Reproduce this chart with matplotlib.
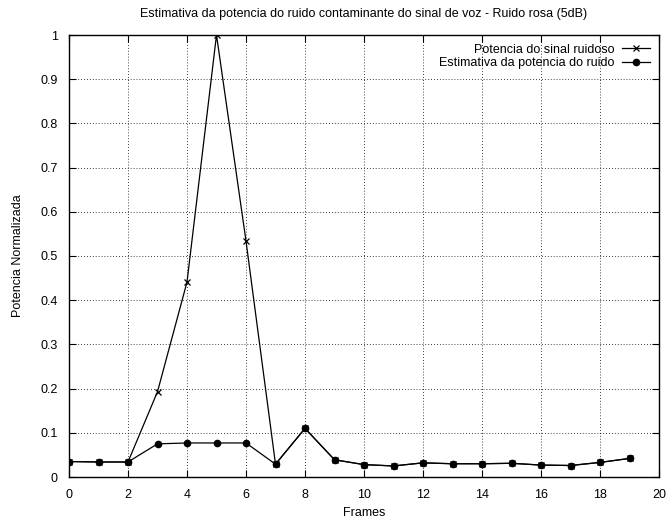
import matplotlib
matplotlib.use("Agg")
import matplotlib.pyplot as plt

frames = list(range(20))
sinal_ruidoso = [0.035, 0.034, 0.034, 0.193, 0.441, 1.0, 0.534, 0.029, 0.110, 0.039,
                 0.028, 0.025, 0.032, 0.030, 0.030, 0.031, 0.027, 0.026, 0.033, 0.042]
estimativa_ruido = [0.035, 0.034, 0.034, 0.075, 0.077, 0.077, 0.077, 0.029, 0.110, 0.039,
                    0.028, 0.025, 0.032, 0.030, 0.030, 0.031, 0.027, 0.026, 0.033, 0.042]
xticks = list(range(0, 21, 2))
yticks = [0, 0.1, 0.2, 0.3, 0.4, 0.5, 0.6, 0.7, 0.8, 0.9, 1]
ytick_labels = ["0", "0.1", "0.2", "0.3", "0.4", "0.5", "0.6", "0.7", "0.8", "0.9", "1"]

plt.rcParams['font.family'] = ['Liberation Sans', 'DejaVu Sans']

fig = plt.figure(figsize=(6.68, 5.23), dpi=100)
ax = fig.add_axes([69/668, 46/523, 590/668, 442/523])

ax.plot(frames, sinal_ruidoso, color='black', lw=0.9, marker='x', ms=5, mew=0.9,
        label='Potencia do sinal ruidoso')
ax.plot(frames, estimativa_ruido, color='black', lw=0.9, marker='o', ms=4.5,
        label='Estimativa da potencia do ruido')

ax.set_xlim(0, 20)
ax.set_ylim(0, 1)
ax.set_xticks(xticks)
ax.set_xticklabels([str(t) for t in xticks])
ax.set_yticks(yticks)
ax.set_yticklabels(ytick_labels)
ax.tick_params(direction='in', top=True, right=True, labelsize=9, length=5, width=0.8)
ax.tick_params(axis='x', pad=9)
ax.tick_params(axis='y', pad=8)
ax.grid(True, linestyle=(0, (1, 2.5)), color='black', lw=0.6)
for s in ax.spines.values():
    s.set_linewidth(1.0)

ax.set_title('Estimativa da potencia do ruido contaminante do sinal de voz - Ruido rosa (5dB)',
             fontsize=9, pad=13)
ax.set_xlabel('Frames', fontsize=9, labelpad=4)
ax.set_ylabel('Potencia Normalizada', fontsize=9, labelpad=12)

leg = ax.legend(loc='upper right', frameon=False, markerfirst=False, fontsize=9,
                handlelength=2.3, borderaxespad=0.3, labelspacing=0.1, handletextpad=0.6)
for t in leg.get_texts():
    t.set_ha('right')

fig.savefig('out.png', dpi=100)
